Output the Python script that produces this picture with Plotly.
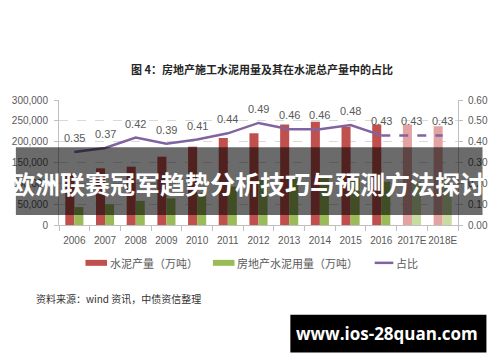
import plotly.graph_objects as go

# ---- data ----
years = ["2006", "2007", "2008", "2009", "2010", "2011", "2012",
         "2013", "2014", "2015", "2016", "2017E", "2018E"]
cement_output = [124000, 136000, 140000, 164000, 188000, 209000, 220000,
                 241000, 248000, 236000, 241000, 241000, 237000]
realestate_use = [43000, 50000, 58000, 64000, 77000, 92000, 108000,
                  111000, 114000, 113000, 104000, 104000, 102000]
share = [0.35, 0.37, 0.42, 0.39, 0.41, 0.44, 0.49,
         0.46, 0.46, 0.48, 0.43, 0.43, 0.43]
share_labels = ["0.35", "0.37", "0.42", "0.39", "0.41", "0.44", "0.49",
                "0.46", "0.46", "0.48", "0.43", "0.43", "0.43"]
n_actual = 11  # 2006-2016 actual, 2017E/2018E estimates

left_ticks = [0, 50000, 100000, 150000, 200000, 250000, 300000]
right_ticks = [0.0, 0.1, 0.2, 0.3, 0.4, 0.5, 0.6]

title_text = "图 4：房地产施工水泥用量及其在水泥总产量中的占比"
legend_names = ["水泥产量（万吨）", "房地产水泥用量（万吨）", "占比"]
source_text = "资料来源：wind 资讯，中债资信整理"
banner_text = "欧洲联赛冠军趋势分析技巧与预测方法探讨"
site_text = "www.ios-28quan.com"

# ---- styles ----
RED, RED_L = "#C0504D", "#E3A3A2"
GRN, GRN_L = "#9BBB59", "#C9DCA0"
PUR = "#8064A2"
TXT = "#595959"
CJK = "Noto Sans CJK SC"

W, H = 500, 362
L, R, T, B = 56, 463, 99.5, 225


def px(x):
    return (x - L) / (R - L)


def py(y):
    return (B - y) / (B - T)


red_colors = [RED if i < n_actual else RED_L for i in range(len(years))]
grn_colors = [GRN if i < n_actual else GRN_L for i in range(len(years))]

fig = go.Figure()
fig.add_trace(go.Bar(x=years, y=cement_output, name=legend_names[0],
                     marker=dict(color=red_colors, line=dict(width=0)),
                     showlegend=False))
fig.add_trace(go.Bar(x=years, y=realestate_use, name=legend_names[1],
                     marker=dict(color=grn_colors, line=dict(width=0)),
                     showlegend=False))
fig.add_trace(go.Scatter(x=years[:n_actual], y=share[:n_actual], yaxis="y2",
                         mode="lines", line=dict(color=PUR, width=2.5),
                         name=legend_names[2], showlegend=False))
fig.add_trace(go.Scatter(x=years[n_actual - 1:], y=share[n_actual - 1:], yaxis="y2",
                         mode="lines", line=dict(color=PUR, width=2.5, dash="dash"),
                         showlegend=False))

annotations = []
for i, (v, lab) in enumerate(zip(share, share_labels)):
    annotations.append(dict(x=i, y=v, xref="x", yref="y2", text=lab,
                            showarrow=False, yshift=14,
                            xanchor="center", yanchor="middle",
                            font=dict(family="Liberation Sans", size=11, color=TXT)))


def paper_text(x, y, text, font, xanchor="center"):
    return dict(x=px(x), y=py(y), xref="paper", yref="paper", text=text,
                showarrow=False, xanchor=xanchor, yanchor="middle", font=font)


# title
annotations.append(paper_text(263, 68, "<b>" + title_text + "</b>",
                              dict(family=CJK, size=11, color="#262626")))
# legend (manual)
shapes = [
    dict(type="rect", xref="paper", yref="paper", x0=px(83), x1=px(105),
         y0=py(266), y1=py(260), fillcolor=RED, line=dict(width=0)),
    dict(type="rect", xref="paper", yref="paper", x0=px(213), x1=px(235),
         y0=py(266), y1=py(260), fillcolor=GRN, line=dict(width=0)),
    dict(type="line", xref="paper", yref="paper", x0=px(378), x1=px(397),
         y0=py(263), y1=py(263), line=dict(color=PUR, width=2.5)),
]
for xpos, name in zip([106, 236, 398], legend_names):
    annotations.append(paper_text(xpos, 263, name,
                                  dict(family=CJK, size=11, color=TXT), "left"))
# source
annotations.append(paper_text(30, 299, source_text,
                              dict(family=CJK, size=10, color="#333333"), "left"))

# banner overlay
shapes.append(dict(type="rect", xref="paper", yref="paper", layer="above",
                   x0=px(12), x1=px(488), y0=py(215), y1=py(147),
                   fillcolor="rgba(0,0,0,0.58)", line=dict(width=0)))
annotations.append(paper_text(248, 183, "<b>" + banner_text + "</b>",
                              dict(family=CJK, size=25, color="white")))
# site box
shapes.append(dict(type="rect", xref="paper", yref="paper", layer="above",
                   x0=px(292), x1=px(492), y0=py(353), y1=py(315),
                   fillcolor="black", line=dict(width=0)))
annotations.append(paper_text(391, 334, "<b>" + site_text + "</b>",
                              dict(family="Open Sans", size=17, color="white")))

fig.update_layout(
    width=W, height=H,
    margin=dict(l=L, r=W - R, t=T, b=H - B, pad=0),
    paper_bgcolor="white", plot_bgcolor="white",
    barmode="group", bargap=0.41, bargroupgap=0,
    showlegend=False,
    font=dict(family="Liberation Sans", size=10, color=TXT),
    xaxis=dict(type="category", range=[-0.5, len(years) - 0.5],
               showline=True, linecolor="#BFBFBF", linewidth=1,
               ticks="outside", tickson="boundaries", ticklen=5, tickcolor="#BFBFBF",
               tickangle=0, ticklabelstandoff=6,
               tickfont=dict(family="Liberation Sans", size=10, color=TXT),
               showgrid=False),
    yaxis=dict(range=[0, 300000], tickvals=left_ticks, tickformat=",d",
               showline=True, linecolor="#BFBFBF", linewidth=1,
               ticks="outside", ticklen=4, tickcolor="#BFBFBF",
               ticklabelstandoff=4,
               showgrid=True, gridcolor="#D9D9D9", griddash="dash", gridwidth=1,
               zeroline=False,
               tickfont=dict(family="Liberation Sans", size=10, color=TXT)),
    yaxis2=dict(range=[0, 0.6], tickvals=right_ticks, tickformat=".2f",
                overlaying="y", side="right",
                showline=True, linecolor="#BFBFBF", linewidth=1,
                ticks="outside", ticklen=4, tickcolor="#BFBFBF",
                ticklabelstandoff=3,
                showgrid=False, zeroline=False,
                tickfont=dict(family="Liberation Sans", size=10, color=TXT)),
    shapes=shapes,
    annotations=annotations,
)

fig.write_html("out.html", config={"displayModeBar": False},
               post_script="document.body.style.margin='0';"
                           "document.body.style.overflow='hidden';")
